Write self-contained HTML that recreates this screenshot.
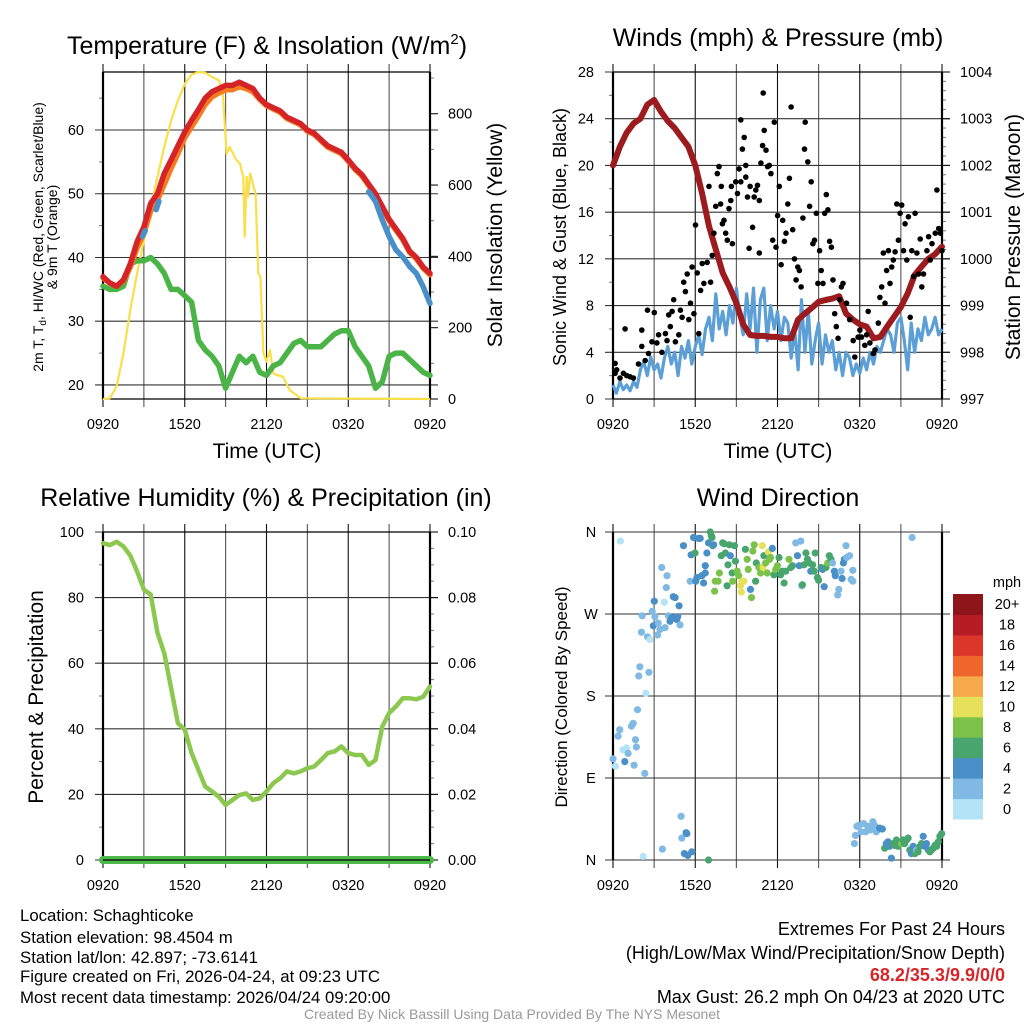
<!DOCTYPE html>
<html><head><meta charset="utf-8">
<style>
html,body{margin:0;padding:0;background:#fff;}
svg{display:block;font-family:"Liberation Sans",Arial,sans-serif;}
</style></head>
<body>
<svg id="chart" xmlns="http://www.w3.org/2000/svg" width="1024" height="1024" viewBox="0 0 1024 1024">
<rect x="0" y="0" width="1024" height="1024" fill="#fff"/>
<g id="layer"></g>
<text x="267" y="54" font-size="25" text-anchor="middle">Temperature (F) &amp; Insolation (W/m<tspan font-size="15" dy="-10">2</tspan><tspan dy="10">)</tspan></text>
<text x="778" y="46" font-size="25" text-anchor="middle">Winds (mph) &amp; Pressure (mb)</text>
<text x="266" y="506" font-size="25" text-anchor="middle">Relative Humidity (%) &amp; Precipitation (in)</text>
<text x="778" y="506" font-size="25" text-anchor="middle">Wind Direction</text>

<text transform="translate(43,237) rotate(-90)" font-size="14" text-anchor="middle">2m T, T<tspan font-size="10" dy="3">d</tspan><tspan dy="-3">, HI/WC (Red, Green, Scarlet/Blue)</tspan></text>
<text transform="translate(57,237) rotate(-90)" font-size="14" text-anchor="middle">&amp; 9m T (Orange)</text>
<text transform="translate(502,235) rotate(-90)" font-size="21" text-anchor="middle">Solar Insolation (Yellow)</text>
<text transform="translate(566,237) rotate(-90)" font-size="18" text-anchor="middle">Sonic Wind &amp; Gust (Blue, Black)</text>
<text transform="translate(1020,237) rotate(-90)" font-size="21" text-anchor="middle">Station Pressure (Maroon)</text>
<text transform="translate(43,697) rotate(-90)" font-size="21" text-anchor="middle">Percent &amp; Precipitation</text>
<text transform="translate(567,697) rotate(-90)" font-size="17" text-anchor="middle">Direction (Colored By Speed)</text>
<text x="267" y="458" font-size="21" text-anchor="middle">Time (UTC)</text>
<text x="778" y="458" font-size="21" text-anchor="middle">Time (UTC)</text>

<g font-size="16.8">
<text x="20" y="921">Location: Schaghticoke</text>
<text x="20" y="943">Station elevation: 98.4504 m</text>
<text x="20" y="963">Station lat/lon: 42.897; -73.6141</text>
<text x="20" y="982">Figure created on Fri, 2026-04-24, at 09:23 UTC</text>
<text x="20" y="1003">Most recent data timestamp: 2026/04/24 09:20:00</text>
</g>
<g font-size="18" text-anchor="end">
<text x="1005" y="935">Extremes For Past 24 Hours</text>
<text x="1005" y="959">(High/Low/Max Wind/Precipitation/Snow Depth)</text>
<text x="1005" y="981" fill="#d7262a" font-weight="bold">68.2/35.3/9.9/0/0</text>
<text x="1005" y="1003">Max Gust: 26.2 mph On 04/23 at 2020 UTC</text>
</g>
<text x="512" y="1019" font-size="14" fill="#999" text-anchor="middle">Created By Nick Bassill Using Data Provided By The NYS Mesonet</text>
</svg>
<script>
// ---------- data ----------
const xTickLabels = ["0920","1520","2120","0320","0920"];
const halfHours = Array.from({length:49},(_,i)=>i*0.5);
const tempRed = [37,36,35.5,36.5,39,42.5,44.8,48.5,50,53.2,55.3,57.5,59.7,61.5,63.2,65,66,66.5,67,67,67.5,67,66.5,65,64,63.5,63,62,61.5,61,60,59.5,58.5,57.5,57,56.5,55.3,54,53,51.5,50,48,46,44.5,43,41,40,38.5,37.5];
const tempOrange = [36.8,36,35.5,36.3,38.5,41.5,43.8,47.3,49,51.5,54,56.3,58.8,60.5,62.2,64,65.2,65.8,66.3,66.3,66.8,66.5,66,64.8,63.8,63.3,62.8,61.8,61.3,60.8,59.8,59.3,58.3,57.3,56.8,56.3,55.1,53.8,52.8,51.3,49.8,47.8,45.8,44.3,42.8,40.8,39.8,38.3,37.3];
const dewGreen = [35.5,35,35,35.5,39,39.5,39.5,40,39,37.5,35,35,34,33,27,25.5,24.5,23,19.5,22,24.5,23.5,24.5,22,21.5,23,23.5,25,26.5,27,26,26,26,27,28,28.5,28.5,26,24.5,23,19.5,20.5,24.5,25,25,24,23,22,21.5];
const hiTime = [2.9,3.1,null,3.9,4.1,null,19.5,20,20.5,21,21.5,22,22.5,23,23.5,24];
const hiVal = [43.3,44.2,null,47.5,48.8,null,50.3,48.8,45.9,43.3,41.2,40.1,38.6,37.5,35.4,32.8];
const insTime = [0,0.5,1,1.5,2,2.5,3,3.5,4,4.5,5,5.5,6,6.5,7,7.5,8,8.5,8.8,9.07,9.3,9.55,9.8,10.05,10.3,10.4,10.55,10.65,10.8,11.05,11.2,11.4,11.55,11.77,12,12.25,12.5,12.75,13.2,13.7,14.5,24];
const insVal = [0,2,35,128,250,352,445,539,623,707,781,837,884,910,917,915,903,894,856,688,707,688,670,660,623,455,623,567,633,595,576,352,343,128,105,137,72,67,63,25,2,0];
const pressure = [1002.0,1002.4,1002.7,1002.9,1003.0,1003.3,1003.4,1003.15,1002.95,1002.8,1002.6,1002.4,1002.0,1001.4,1000.7,1000.2,999.7,999.4,999.05,998.6,998.37,998.35,998.35,998.33,998.33,998.3,998.3,998.7,998.83,998.95,999.08,999.12,999.15,999.2,998.83,998.7,998.6,998.55,998.3,998.33,998.55,998.76,998.97,999.26,999.65,999.83,1000.0,1000.1,1000.26];
const sonicWind = [1.2,0.5,1.5,0.8,1.2,0.7,1.5,1.0,2.5,3.2,2.0,3.6,2.5,3.0,1.8,3.5,4.5,3.0,4.0,2.0,4.5,3.5,5.0,3.0,4.5,5.5,3.8,6.0,7.0,5.0,9.0,6.0,7.5,5.5,8.0,6.5,9.5,7.0,5.5,9.0,6.0,9.5,4.0,8.5,9.5,5.0,8.0,6.0,7.5,5.0,7.0,6.5,3.5,6.0,2.5,8.5,4.0,7.5,3.0,5.0,6.5,3.0,5.5,4.0,5.0,2.5,4.0,2.0,4.0,3.5,2.0,3.0,2.2,3.5,2.5,4.0,3.0,4.5,4.0,5.0,6.0,5.5,4.0,6.5,7.0,5.0,2.5,6.5,4.0,6.0,5.0,7.0,5.5,6.0,7.0,5.5,6.0];
const gustTime = [0.15,0.15,0.27,0.51,0.76,0.88,1.0,1.25,1.49,1.86,2.1,2.1,2.35,2.52,2.59,2.84,3.01,3.2,3.33,3.57,3.82,3.94,4.06,4.18,4.31,4.43,4.55,4.8,4.92,5.04,5.16,5.28,5.41,5.53,5.65,5.77,5.9,6.02,6.14,6.26,6.39,6.51,6.63,6.87,7.0,7.12,7.24,7.36,7.49,7.61,7.73,7.85,7.9,7.98,8.1,8.22,8.34,8.46,8.59,8.64,8.71,8.95,9.08,9.2,9.32,9.32,9.44,9.57,9.69,9.69,9.81,9.93,10.0,10.18,10.3,10.42,10.54,10.67,10.67,10.79,10.91,10.96,11.03,11.16,11.28,11.4,11.52,11.65,11.77,11.89,12.01,12.13,12.26,12.38,12.5,12.62,12.75,12.87,12.99,13.11,13.24,13.36,13.48,13.6,13.72,13.85,13.97,14.02,14.21,14.34,14.46,14.58,14.7,14.83,14.95,15.07,15.19,15.32,15.44,15.56,15.68,15.8,15.93,16.05,16.17,16.29,16.42,16.54,16.66,16.78,17.03,17.27,17.52,17.64,17.88,18.01,18.13,18.37,18.5,18.62,18.74,18.98,19.11,19.35,19.47,19.6,19.72,19.84,19.96,20.09,20.21,20.33,20.45,20.58,20.7,20.82,20.94,21.06,21.19,21.31,21.43,21.55,21.68,21.8,21.92,22.04,22.17,22.29,22.41,22.53,22.65,22.9,23.02,23.14,23.27,23.51,23.63,23.76,23.88,24.0];
const gustSpeed = [3.05,2.2,2.5,1.8,2.2,6.0,2.0,1.9,1.8,3.0,4.5,5.9,3.3,7.6,3.9,4.9,7.4,4.8,5.5,4.0,5.6,5.0,7.2,6.2,7.5,8.5,4.9,5.5,7.6,7.0,10.0,9.2,10.7,6.8,8.2,11.3,7.3,14.9,10.8,5.6,9.3,11.6,9.9,11.7,18.2,10.0,12.3,14.2,16.5,19.3,19.9,16.7,18.2,15.0,15.3,14.2,13.6,16.3,17.0,18.2,13.3,18.6,17.6,19.7,18.6,23.9,21.4,22.4,20.0,19.0,17.3,12.9,18.2,14.7,17.3,17.9,18.3,17.0,12.5,20.2,21.7,26.2,23.0,21.3,19.9,20.0,19.3,13.6,23.7,13.0,15.7,18.2,11.5,15.3,13.5,14.2,16.7,18.9,25.0,14.5,12.0,10.2,11.3,11.0,9.6,15.5,21.4,23.7,20.3,16.5,18.6,13.3,13.6,15.9,9.9,12.7,11.0,9.9,15.9,17.5,16.2,13.5,13.0,10.2,7.3,6.2,5.2,8.5,9.6,9.9,8.2,6.8,5.0,3.6,5.3,5.9,5.3,4.6,5.5,7.5,4.8,3.9,4.2,6.5,8.7,9.6,12.5,8.2,11.0,12.7,9.9,11.3,11.9,12.6,16.7,13.6,15.9,16.6,12.7,15.0,11.9,15.6,7.0,12.7,10.5,15.9,12.5,10.7,13.7,9.6,10.7,12.7,13.9,11.9,13.3,14.2,17.9,14.6,14.2,12.7];
const rhTime = halfHours;
const rhVal = [96.6,96,97,95.6,92.8,88,82.4,80.9,69.2,63,52.4,41.7,39.7,32.6,27.5,22.4,20.9,19.3,16.8,18.3,19.8,20.3,18.3,18.8,20.9,23.4,24.9,27,26.4,27,28,28.5,30.5,32.6,33.1,34.6,32.6,32,32,29,30.5,40.7,44.8,46.8,49.3,49.3,49,49.8,52.9];
const precipVal = Array(49).fill(0);
const dirHour = [0.54,0.0,0.17,0.37,0.49,0.73,0.86,0.98,1.1,1.35,1.47,1.54,1.64,1.71,1.79,1.88,1.96,2.08,2.13,2.2,2.32,2.4,2.52,2.62,2.69,2.86,3.01,3.06,2.94,3.25,3.3,3.43,3.55,3.6,3.74,3.79,3.89,3.94,4.04,4.16,4.28,4.4,4.53,4.65,4.72,4.82,4.89,4.97,5.02,5.14,5.21,5.33,5.38,5.46,5.63,5.7,5.75,5.87,5.99,6.04,6.12,6.24,6.36,6.48,6.61,6.73,6.73,6.85,6.97,6.97,7.09,7.17,7.22,7.27,7.34,7.41,7.46,7.66,7.76,7.9,8.0,8.12,8.2,8.32,8.39,8.49,8.56,8.69,8.73,8.86,8.93,9.05,9.17,9.3,9.37,9.42,9.54,9.66,9.79,9.86,10.03,10.1,10.2,10.3,10.4,10.45,10.64,10.76,10.89,10.94,11.01,11.13,11.25,11.33,11.43,11.5,11.62,11.74,11.87,11.99,12.11,12.23,12.35,12.48,12.6,12.84,12.97,13.09,13.33,13.46,13.58,13.7,13.77,13.82,13.94,14.07,14.19,14.31,14.43,14.56,14.68,14.75,14.92,15.0,15.17,15.29,15.41,15.54,15.66,15.78,15.9,16.02,16.15,16.22,16.39,16.47,16.64,16.71,16.81,16.88,17.0,17.05,17.25,17.37,17.49,17.49,17.61,17.69,17.79,17.93,18.1,18.28,18.42,18.59,18.76,18.96,19.08,19.2,19.33,19.45,19.65,19.82,19.94,20.06,20.18,20.31,20.43,20.55,20.67,20.8,20.92,21.04,21.16,21.28,21.41,21.53,21.65,21.77,21.82,21.9,22.02,22.14,22.26,22.39,22.51,22.63,22.75,22.87,23.0,23.12,23.24,23.36,23.49,23.61,23.73,23.85,23.98];
const dirDeg = [350,111,103,136,143,121,108,123,117,147,150,104,132,124,165,202,212,250,268,4,95,183,245,206,242,273,284,267,257,247,260,253,321,12,283,255,299,312,268,262,266,289,288,264,267,279,258,48,24,345,7,30,29,5,306,335,9,354,337,306,310,353,353,312,304,315,323,337,0,348,360,356,354,345,346,295,306,306,315,334,348,347,337,301,324,346,334,315,306,345,328,317,312,301,294,306,306,341,330,319,297,288,339,346,306,326,321,315,345,321,334,326,315,338,330,332,342,313,319,323,332,313,317,304,317,330,321,323,348,334,323,350,301,302,324,337,330,326,317,324,317,337,310,307,321,319,300,321,326,334,330,326,317,312,291,297,317,309,326,330,345,332,334,308,318,306,18,27,37,38,31,40,31,37,33,42,38,31,33,35,34,13,18,20,15,2,18,16,22,15,19,18,22,18,22,24,11,7,354,15,7,11,9,15,18,26,15,18,11,9,11,13,16,15,20,26,29];
const dirSpeed = [1,3,1,3,3,1,5,1,3,3,3,3,3,3,3,3.8,3.8,3.8,3.8,1,3.8,1,3.8,3.8,1,3,5,3.8,5,3,3.8,3.8,3,3.8,1,3,3,3,3.8,5,5,5,5,5,5,5,3,3.8,3.8,5,5,5,5,5,3.8,5,5,5,7,5,5,5,5,5,5,5,5,5,7,5,7,7,7,7,5,9,9,9,9,7,7,7,7,7,7,7,5,7,9,7,7,9,9,11,11,11,11,7,9,9,5,9,9,9,7,7,9,9,11,11,7,9,9,11,9,9,5,7,9,9,7,7,7,7,7,9,7,7,3.8,5,5,3.8,3.8,7,7,7,7,7,5,7,7,7,7,7,7,5,5,7,9,7,7,3.8,5,5,3,3,3.8,5,5,5,3,3,3,3,3,3,3,3,3,3,3,3,3,3,3,3,3,3,3,5,5,7,5,5,5,5,7,7,7,7,7,9,7,7,7,7,7,5,3.8,5,7,3,7,7,7,5,5,5,5,7,7,7,7,7,7,7,7,7];
const cbLabels = ["0","2","4","6","8","10","12","14","16","18","20+"];
const cbColors = ["#b4e3f8","#7fb9e4","#4a8fc7","#47a56d","#7bc14a","#e6e15b","#f6a94a","#ef662c","#dc3628","#b71c24","#8e161b"];

// ---------- helpers ----------
const NS = "http://www.w3.org/2000/svg";
const layer = document.getElementById("layer");
function mk(tag, attrs, parent){
  const e = document.createElementNS(NS, tag);
  for (const k in attrs) e.setAttribute(k, attrs[k]);
  (parent||layer).appendChild(e);
  return e;
}
function panel(x0,x1,y0,y1,lmin,lmax,rmin,rmax){
  return {x0,x1,y0,y1,
    sx:h=>x0+h/24*(x1-x0),
    sl:v=>y1-(v-lmin)/(lmax-lmin)*(y1-y0),
    sr:v=>y1-(v-rmin)/(rmax-rmin)*(y1-y0)};
}
function pathFrom(xs, ys, fx, fy){
  let d="", pen=false;
  for (let i=0;i<xs.length;i++){
    if (xs[i]===null || ys[i]===null){pen=false;continue;}
    d += (pen?"L":"M")+fx(xs[i]).toFixed(1)+" "+fy(ys[i]).toFixed(1);
    pen=true;
  }
  return d;
}
function frame(P, name, leftTicks, leftFmt, leftMinor, rightTicks, rightFmt, rightMinor, useRightScale){
  const g = mk("g",{});
  
  
  for (let h=0; h<=24; h+=3){
    const x = P.sx(h);
    const l = mk("line",{x1:x,x2:x,y1:P.y0-8,y2:P.y1+8,stroke:(h%6===0?"#111":"#555"),"stroke-width":1.1},g);
    
    
  }
  leftTicks.forEach(v=>{
    const y = P.sl(v);
    const l = mk("line",{x1:P.x0-8,x2:P.x1+8,y1:y,y2:y,stroke:"#333","stroke-width":1.1},g);
    
    
    const t = mk("text",{x:P.x0-19,y:y+5,"font-size":14.5,"text-anchor":"end"},g);
    t.textContent = leftFmt(v);
    
    
  });
  leftMinor.forEach(v=>{
    const y=P.sl(v);
    mk("line",{x1:P.x0-4,x2:P.x0,y1:y,y2:y,stroke:"#777","stroke-width":1},g);
  });
  const sr = useRightScale ? P.sr : P.sl;
  rightTicks.forEach(v=>{
    const y = sr(v);
    mk("line",{x1:P.x1,x2:P.x1+8,y1:y,y2:y,stroke:"#111","stroke-width":1.1},g);
    const t = mk("text",{x:P.x1+18,y:y+5,"font-size":14.5,"text-anchor":"start"},g);
    t.textContent = rightFmt(v);
    
    
  });
  rightMinor.forEach(v=>{
    const y=sr(v);
    mk("line",{x1:P.x1,x2:P.x1+4,y1:y,y2:y,stroke:"#777","stroke-width":1},g);
  });
  xTickLabels.forEach((lab,i)=>{
    const t = mk("text",{x:P.sx(i*6),y:P.y1+30,"font-size":14.5,"text-anchor":"middle"},g);
    t.textContent = lab;
    
    
  });
  mk("line",{x1:P.x0,x2:P.x1,y1:P.y0,y2:P.y0,stroke:"#000","stroke-width":1.3},g);
  mk("line",{x1:P.x0,x2:P.x1,y1:P.y1,y2:P.y1,stroke:"#000","stroke-width":1.3},g);
  mk("line",{x1:P.x0,x2:P.x0,y1:P.y0,y2:P.y1,stroke:"#000","stroke-width":2.2},g);
  mk("line",{x1:P.x1,x2:P.x1,y1:P.y0,y2:P.y1,stroke:"#000","stroke-width":2.2},g);
}
function range(a,b,s){const r=[];for(let v=a;v<=b+1e-9;v+=s)r.push(+v.toFixed(4));return r;}

// ---------- Panel 1: temperature ----------
const P1 = panel(103,430,72,399,17.8,69.1,0,917);
frame(P1,"temperature",[20,30,40,50,60],v=>String(v),range(25,65,10),[0,200,400,600,800],v=>String(v),range(100,900,100).filter(v=>v%200),true);
const ins = mk("path",{d:pathFrom(insTime,insVal,P1.sx,P1.sr),fill:"none",stroke:"#f9df4a","stroke-width":2.2,"stroke-linejoin":"round"});


const dew = mk("path",{d:pathFrom(halfHours,dewGreen,P1.sx,P1.sl),fill:"none",stroke:"#4bb446","stroke-width":5.5,"stroke-linejoin":"round","stroke-linecap":"round"});


const org = mk("path",{d:pathFrom(halfHours,tempOrange,P1.sx,P1.sl),fill:"none",stroke:"#f47b20","stroke-width":5.5,"stroke-linejoin":"round","stroke-linecap":"round"});


const red = mk("path",{d:pathFrom(halfHours,tempRed,P1.sx,P1.sl),fill:"none",stroke:"#d42427","stroke-width":5.5,"stroke-linejoin":"round","stroke-linecap":"round"});


const hi = mk("path",{d:pathFrom(hiTime,hiVal,P1.sx,P1.sl),fill:"none",stroke:"#4a90c8","stroke-width":5.5,"stroke-linejoin":"round","stroke-linecap":"round"});



// ---------- Panel 2: winds ----------
const P2 = panel(613,942,72,399,0,28,997,1004);
frame(P2,"wind",[0,4,8,12,16,20,24,28],v=>String(v),range(2,26,4),[997,998,999,1000,1001,1002,1003,1004],v=>String(v),range(997.2,1003.8,0.2).filter(v=>Math.abs(v-Math.round(v))>0.01),true);
const sonicTime = sonicWind.map((_,i)=>i*0.25);
const sw = mk("path",{d:pathFrom(sonicTime,sonicWind,P2.sx,P2.sl),fill:"none",stroke:"#5b9fd6","stroke-width":3.2,"stroke-linejoin":"round"});


const pr = mk("path",{d:pathFrom(halfHours,pressure,P2.sx,P2.sr),fill:"none",stroke:"#9b1b1e","stroke-width":6,"stroke-linejoin":"round","stroke-linecap":"round"});


gustTime.forEach((t,i)=>{
  const c = mk("circle",{cx:P2.sx(t).toFixed(1),cy:P2.sl(gustSpeed[i]).toFixed(1),r:2.8,fill:"#000"});
  
  
});

// ---------- Panel 3: humidity ----------
const P3 = panel(103,430,532,860,0,100,0,0.10);
frame(P3,"humidity",[0,20,40,60,80,100],v=>String(v),range(10,90,20),[0,0.02,0.04,0.06,0.08,0.10],v=>v.toFixed(2),range(0.005,0.095,0.005).filter(v=>Math.round(v*1000)%20),true);
const rh = mk("path",{d:pathFrom(rhTime,rhVal,P3.sx,P3.sl),fill:"none",stroke:"#8cc84f","stroke-width":4.5,"stroke-linejoin":"round","stroke-linecap":"round"});


const pc = mk("path",{d:pathFrom(halfHours,precipVal,P3.sx,P3.sr),fill:"none",stroke:"#4cb84a","stroke-width":8,"stroke-linecap":"round"});


mk("line",{x1:P3.x0,x2:P3.x1,y1:P3.y1,y2:P3.y1,stroke:"#000","stroke-width":1.3});

// ---------- Panel 4: direction ----------
const P4 = panel(613,942,532,860,0,360,0,360);
(function(){
  const P=P4; const g=mk("g",{});
  
  
  for (let h=0; h<=24; h+=3){
    const x=P.sx(h);
    mk("line",{x1:x,x2:x,y1:P.y0-8,y2:P.y1+8,stroke:(h%6===0?"#111":"#555"),"stroke-width":1.1},g);
  }
  const dirLabels=["N","E","S","W","N"];
  [0,90,180,270,360].forEach((v,i)=>{
    const y=P.sl(v);
    mk("line",{x1:P.x0-8,x2:P.x1+8,y1:y,y2:y,stroke:"#333","stroke-width":1.1},g);
    const t=mk("text",{x:591,y:y+5,"font-size":14.5,"text-anchor":"middle"},g);
    t.textContent=dirLabels[i];
    
    
  });
  xTickLabels.forEach((lab,i)=>{
    const t=mk("text",{x:P.sx(i*6),y:P.y1+30,"font-size":14.5,"text-anchor":"middle"},g);
    t.textContent=lab;
    
    
  });
  mk("line",{x1:P.x0,x2:P.x0,y1:P.y0,y2:P.y1,stroke:"#000","stroke-width":2.2},g);
  mk("line",{x1:P.x1,x2:P.x1,y1:P.y0,y2:P.y1,stroke:"#000","stroke-width":2.2},g);
})();
dirHour.forEach((h,i)=>{
  const idx=Math.min(10,Math.floor(dirSpeed[i]/2));
  const c=mk("circle",{cx:P4.sx(h).toFixed(1),cy:P4.sl(dirDeg[i]).toFixed(1),r:3.6,fill:cbColors[idx]});
  
  
});
// colorbar
const cbTop=594, cbBot=819, cbH=(cbBot-cbTop)/cbLabels.length;
const mph=mk("text",{x:1007,y:587,"font-size":14.5,"text-anchor":"middle"});
mph.textContent="mph";


cbLabels.forEach((lab,i)=>{
  const y=cbBot-(i+1)*cbH;
  const r=mk("rect",{x:953,y:y.toFixed(1),width:30,height:(cbH+0.5).toFixed(1),fill:cbColors[i]});
  
  
  const t=mk("text",{x:1007,y:(y+cbH/2+5).toFixed(1),"font-size":14.5,"text-anchor":"middle"});
  t.textContent=lab;
  
  
});
</script>
</body></html>
